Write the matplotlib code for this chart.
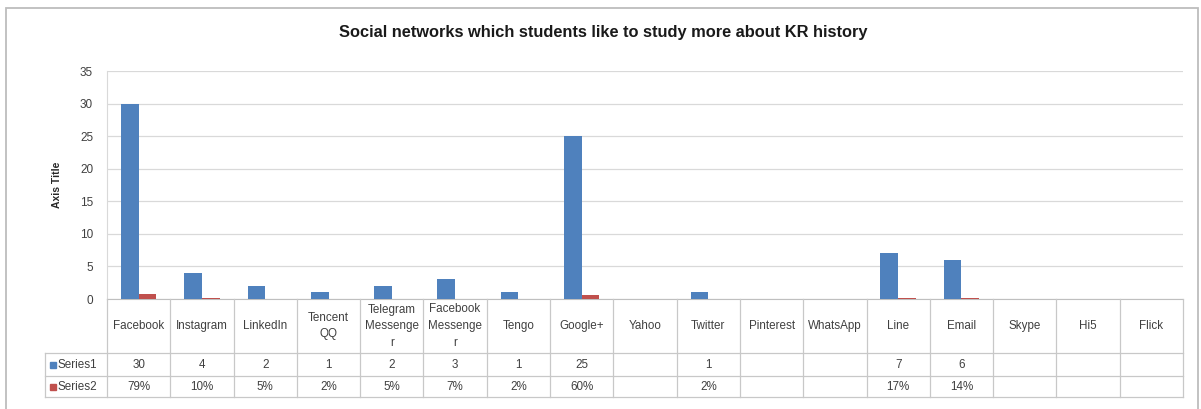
import numpy as np
import matplotlib
matplotlib.use("Agg")
import matplotlib.pyplot as plt
from matplotlib.patches import Rectangle

# data
categories = ["Facebook", "Instagram", "LinkedIn", "Tencent QQ", "Telegram Messenger",
              "Facebook Messenger", "Tengo", "Google+", "Yahoo", "Twitter", "Pinterest",
              "WhatsApp", "Line", "Email", "Skype", "Hi5", "Flick"]
tick_labels = ["Facebook", "Instagram", "LinkedIn", "Tencent\nQQ", "Telegram\nMessenge\nr",
               "Facebook\nMessenge\nr", "Tengo", "Google+", "Yahoo", "Twitter", "Pinterest",
               "WhatsApp", "Line", "Email", "Skype", "Hi5", "Flick"]
series1 = [30, 4, 2, 1, 2, 3, 1, 25, None, 1, None, None, 7, 6, None, None, None]
series2 = [0.79, 0.10, 0.05, 0.02, 0.05, 0.07, 0.02, 0.60, None, 0.02, None, None, 0.17, 0.14,
           None, None, None]
series_names = ["Series1", "Series2"]
colors = ["#4F81BD", "#C0504D"]

W, H = 1201, 409
plt.rcParams['font.family'] = ['Liberation Sans', 'DejaVu Sans']
fig = plt.figure(figsize=(W / 100, H / 100), dpi=100)

# pixel helper -> figure fraction
def fx(px):
    return px / W

def fy(py):
    return 1 - py / H

L, R, T, B = 107, 1183, 71, 299
ax = fig.add_axes([fx(L), fy(B), fx(R) - fx(L), fy(T) - fy(B)])

x = np.arange(len(categories))
bw = 0.28
s1 = np.array([np.nan if v is None else v for v in series1], dtype=float)
s2 = np.array([np.nan if v is None else v for v in series2], dtype=float)
ax.bar(x - bw / 2, s1, width=bw, color=colors[0], zorder=3)
ax.bar(x + bw / 2, s2, width=bw, color=colors[1], zorder=3)

ax.set_xlim(-0.5, len(categories) - 0.5)
ax.set_ylim(0, 35)
ax.set_yticks(range(0, 36, 5))
ax.tick_params(axis='y', length=0, labelsize=8.5, labelcolor="#404040", pad=10)
ax.set_xticks([])
ax.grid(axis='y', color="#D9D9D9", linewidth=0.9, zorder=0)
for s in ["top", "right"]:
    ax.spines[s].set_visible(False)
ax.spines["left"].set_color("#D9D9D9")
ax.spines["bottom"].set_color("#BFBFBF")
ax.set_ylabel("Axis Title", fontsize=7.5, fontweight="bold", color="#262626")
ax.yaxis.set_label_coords((62 - L) / (R - L), 0.5)

# data table
line_kw = dict(color="#C8C8C8", linewidth=0.9, transform=fig.transFigure, clip_on=False)
col_w = (R - L) / len(categories)
rows = [B, 353, 376, 397]
for i in range(len(categories) + 1):
    xp = L + i * col_w
    fig.add_artist(plt.Line2D([fx(xp), fx(xp)], [fy(B), fy(rows[-1])], **line_kw))
for yp in rows[1:]:
    fig.add_artist(plt.Line2D([fx(45), fx(R)], [fy(yp), fy(yp)], **line_kw))
fig.add_artist(plt.Line2D([fx(45), fx(45)], [fy(rows[1]), fy(rows[-1])], **line_kw))

fs = 8.4
for i, lab in enumerate(tick_labels):
    cx = L + (i + 0.5) * col_w
    fig.text(fx(cx), fy((B + rows[1]) / 2), lab, ha="center", va="center",
             fontsize=fs, color="#404040", linespacing=1.5)
    if series1[i] is not None:
        fig.text(fx(cx), fy((rows[1] + rows[2]) / 2), str(series1[i]), ha="center",
                 va="center", fontsize=fs, color="#404040")
    if series2[i] is not None:
        fig.text(fx(cx), fy((rows[2] + rows[3]) / 2), "%d%%" % round(series2[i] * 100),
                 ha="center", va="center", fontsize=fs, color="#404040")

for k, name in enumerate(series_names):
    yc = (rows[k + 1] + rows[k + 2]) / 2
    fig.add_artist(Rectangle((fx(50), fy(yc + 3)), fx(6), fy(0) - fy(6),
                             color=colors[k], transform=fig.transFigure))
    fig.text(fx(58), fy(yc), name, ha="left", va="center", fontsize=fs, color="#404040")

fig.text(fx(603), fy(32), "Social networks which students like to study more about KR history",
         ha="center", va="center", fontsize=11.8, fontweight="bold", color="#1a1a1a")

# chart border
fig.add_artist(Rectangle((fx(6), fy(420)), fx(1192), fy(0) - fy(412), fill=False,
                         edgecolor="#BDBDBD", linewidth=1.3, transform=fig.transFigure))

fig.savefig("out.png", dpi=100)
